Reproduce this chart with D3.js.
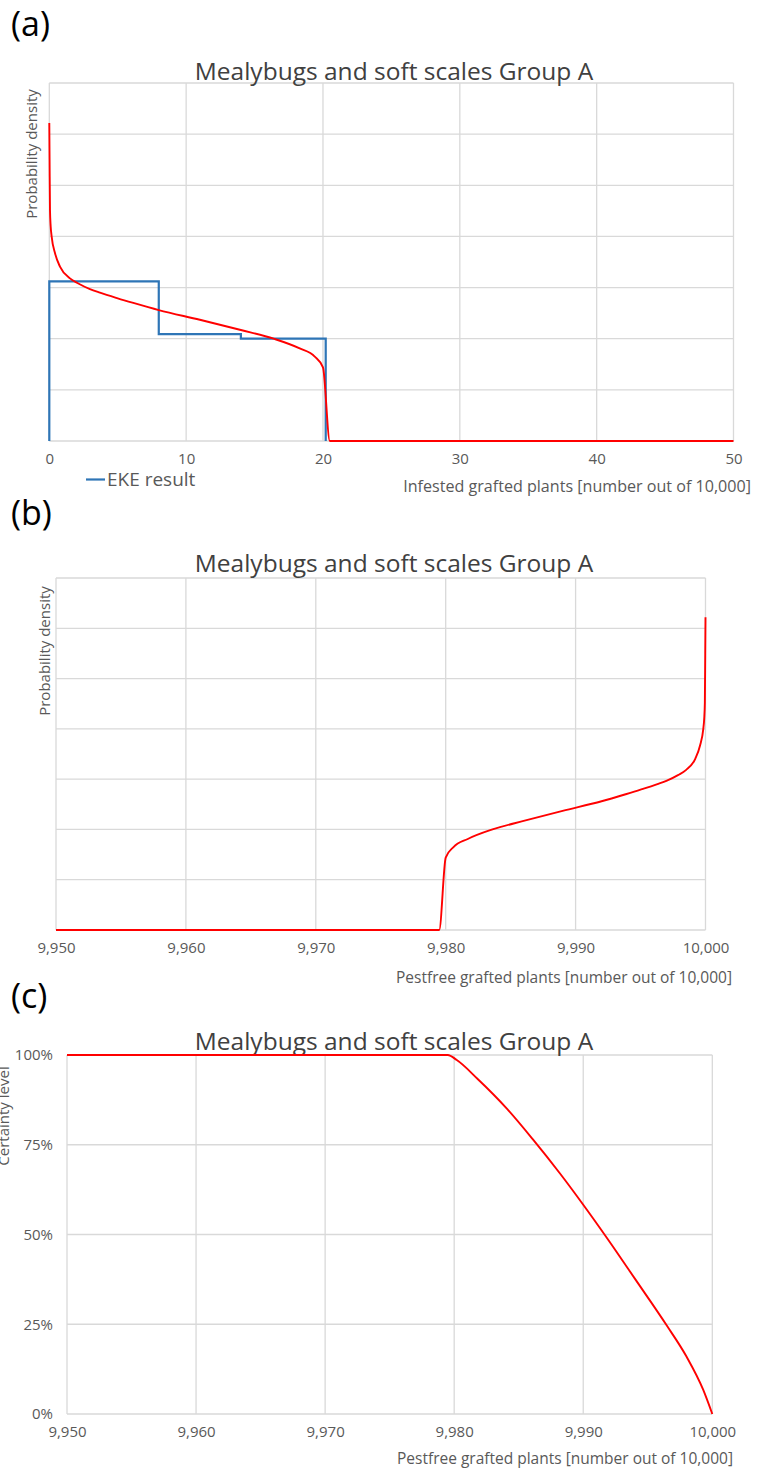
<!DOCTYPE html>
<html>
<head>
<meta charset="utf-8">
<script src="https://cdn.jsdelivr.net/npm/d3@7"></script>
<style>
  html, body { margin: 0; padding: 0; background: #fff; }
  svg { display: block; font-family: "Open Sans", "Noto Sans", sans-serif; }
</style>
</head>
<body>
<svg id="fig" width="757" height="1470"></svg>
<script>
// Fitted probability density over infested plants (per 10,000)
const infested = [0, 0.02, 0.05, 0.1, 0.17, 0.42, 0.78, 1.51, 2.12, 2.97, 3.7, 5.0, 6.14, 8.0, 11.0, 14.0, 16.4, 18.3, 19.4, 20.0, 20.5, 50];
const density  = [6.22, 5.5, 4.52, 4.2, 4.0, 3.67, 3.41, 3.18, 3.08, 2.97, 2.90, 2.79, 2.70, 2.56, 2.37, 2.17, 2.0, 1.81, 1.65, 1.44, 0, 0];

// Expert knowledge elicitation histogram (bin edges and heights)
const ekeEdges   = [0, 8, 14, 20.2];
const ekeHeights = [3.12, 2.09, 2.0];

// Certainty level that pest-free plants exceed a given count
const pestfreeCdf = [9950, 9979.5, 9980.2, 9981.8, 9984.1, 9986.1, 9988.2, 9990.0, 9992.0, 9994.0, 9996.5, 9998.0, 9999.3, 10000];
const certainty   = [1.0, 1.0, 0.986, 0.934, 0.85, 0.765, 0.67, 0.583, 0.482, 0.377, 0.245, 0.16, 0.067, 0];

const ticksA = [0, 10, 20, 30, 40, 50];
const ticksB = [9950, 9960, 9970, 9980, 9990, 10000];
const ticksPct = [0, 0.25, 0.5, 0.75, 1];

const TITLE = "Mealybugs and soft scales Group A";
const GRID = "#d9d9d9";
const TXT = "#595959";
const RED = "#ff0000";
const BLUE = "#2e75b6";

const svg = d3.select("#fig");
const fmt = d3.format(",");

function panelLetter(txt, y) {
  svg.append("text").attr("x", 11).attr("y", y)
    .attr("font-size", 34).attr("fill", "#000").text(txt);
}

function gridAndAxis(x, y, xTicks, yTicks, xFormat, showY, yFormat) {
  const g = svg.append("g");
  const [x0, x1] = x.range();
  const [y0, y1] = y.range();
  // horizontal grid
  g.selectAll(".hg").data(yTicks).join("line")
    .attr("x1", x0).attr("x2", x1)
    .attr("y1", d => y(d)).attr("y2", d => y(d))
    .attr("stroke", GRID).attr("stroke-width", 1.3);
  // vertical grid
  g.selectAll(".vg").data(xTicks).join("line")
    .attr("x1", d => x(d)).attr("x2", d => x(d))
    .attr("y1", y0).attr("y2", y1)
    .attr("stroke", GRID).attr("stroke-width", 1.3);
  // x tick labels
  const ax = svg.append("g").attr("transform", `translate(0,${y0})`)
    .call(d3.axisBottom(x).tickValues(xTicks).tickFormat(xFormat).tickSize(0).tickPadding(12));
  ax.select(".domain").remove();
  ax.selectAll("text").attr("font-size", 15).attr("fill", TXT)
    .attr("font-family", "Open Sans, sans-serif");
  if (showY) {
    const ay = svg.append("g").attr("transform", `translate(${x0},0)`)
      .call(d3.axisLeft(y).tickValues(yTicks).tickFormat(yFormat).tickSize(0).tickPadding(14));
    ay.select(".domain").remove();
    ay.selectAll("text").attr("font-size", 15).attr("fill", TXT)
      .attr("font-family", "Open Sans, sans-serif");
  }
}

function title(cx, y) {
  svg.append("text").attr("x", cx).attr("y", y).attr("text-anchor", "middle")
    .attr("font-size", 24.5).attr("fill", "#404040").text(TITLE);
}

function yTitle(txt, cx, cy) {
  svg.append("text").attr("transform", `translate(${cx},${cy}) rotate(-90)`)
    .attr("text-anchor", "middle").attr("dominant-baseline", "central")
    .attr("font-size", 15).attr("fill", TXT).text(txt);
}

function xTitle(txt, right, y, size) {
  svg.append("text").attr("x", right).attr("y", y).attr("text-anchor", "end")
    .attr("font-size", size).attr("fill", TXT).text(txt);
}

// ---------- (a) density over infested plants ----------
{
  const x = d3.scaleLinear().domain([0, 50]).range([49.3, 733.5]);
  const y = d3.scaleLinear().domain([0, 7]).range([441, 83]);
  panelLetter("(a)", 36);
  gridAndAxis(x, y, ticksA, d3.range(0, 8), d => d, false);
  title(394, 80);
  yTitle("Probability density", 31, 154);
  xTitle("Infested grafted plants [number out of 10,000]", 751, 492, 16.1);

  // EKE step histogram
  const pts = [[ekeEdges[0], 0]];
  ekeHeights.forEach((h, i) => { pts.push([ekeEdges[i], h]); pts.push([ekeEdges[i + 1], h]); });
  pts.push([ekeEdges[ekeEdges.length - 1], 0]);
  svg.append("path").datum(pts)
    .attr("d", d3.line().x(d => x(d[0])).y(d => y(d[1])))
    .attr("fill", "none").attr("stroke", BLUE).attr("stroke-width", 2.2);

  // fitted density
  svg.append("path").datum(infested.map((v, i) => [v, density[i]]))
    .attr("d", d3.line().x(d => x(d[0])).y(d => y(d[1])).curve(d3.curveMonotoneX))
    .attr("fill", "none").attr("stroke", RED).attr("stroke-width", 1.9);

  // legend
  svg.append("line").attr("x1", 86).attr("x2", 105).attr("y1", 479.5).attr("y2", 479.5)
    .attr("stroke", BLUE).attr("stroke-width", 2.2);
  svg.append("text").attr("x", 107).attr("y", 486).attr("font-size", 19)
    .attr("fill", TXT).text("EKE result");
}

// ---------- (b) density over pest-free plants ----------
{
  const x = d3.scaleLinear().domain([9950, 10000]).range([56, 705.5]);
  const y = d3.scaleLinear().domain([0, 7]).range([930, 578]);
  panelLetter("(b)", 525);
  gridAndAxis(x, y, ticksB, d3.range(0, 8), fmt, false);
  title(394, 572);
  yTitle("Probability density", 44, 651);
  xTitle("Pestfree grafted plants [number out of 10,000]", 732, 983, 15.5);

  const pts = infested.map((v, i) => [10000 - v, density[i]]).reverse();
  svg.append("path").datum(pts)
    .attr("d", d3.line().x(d => x(d[0])).y(d => y(d[1])).curve(d3.curveMonotoneX))
    .attr("fill", "none").attr("stroke", RED).attr("stroke-width", 1.9);
}

// ---------- (c) certainty level ----------
{
  const x = d3.scaleLinear().domain([9950, 10000]).range([67, 712.3]);
  const y = d3.scaleLinear().domain([0, 1]).range([1414, 1055]);
  panelLetter("(c)", 1008);
  gridAndAxis(x, y, ticksB, ticksPct, fmt, true, d3.format(".0%"));
  title(394, 1050);
  yTitle("Certainty level", 3, 1116);
  xTitle("Pestfree grafted plants [number out of 10,000]", 733, 1464, 15.5);

  svg.append("path").datum(pestfreeCdf.map((v, i) => [v, certainty[i]]))
    .attr("d", d3.line().x(d => x(d[0])).y(d => y(d[1])).curve(d3.curveMonotoneX))
    .attr("fill", "none").attr("stroke", RED).attr("stroke-width", 1.9);
}
</script>
</body>
</html>
